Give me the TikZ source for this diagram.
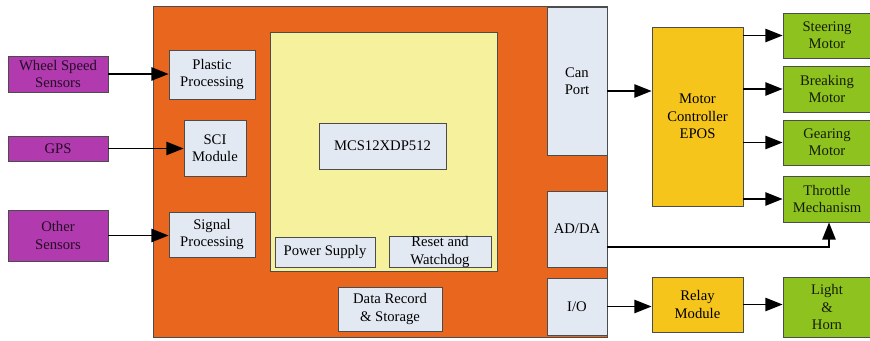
\documentclass[tikz,border=0pt]{standalone}
\usepackage{fontspec}
\setmainfont{Liberation Serif}
\usetikzlibrary{arrows.meta}

\definecolor{ecuorange}{HTML}{E8661E}
\definecolor{mcuyellow}{HTML}{F6F19C}
\definecolor{unitgrey}{HTML}{E3E9F3}
\definecolor{sensorpurple}{HTML}{B03AAE}
\definecolor{drivegold}{HTML}{F6C51B}
\definecolor{actgreen}{HTML}{8DC21F}

\tikzset{
  blk/.style={draw=black!70, line width=0.6pt, rectangle, inner sep=0pt, align=center,
    font=\fontsize{11}{13}\selectfont},
  unit/.style={blk, fill=unitgrey},
  sensor/.style={blk, fill=sensorpurple, text=black!80!sensorpurple},
  drive/.style={blk, fill=drivegold},
  actuator/.style={blk, fill=actgreen, text=black!85!actgreen},
  arr/.style={-{Triangle[length=13pt,width=10pt]}, line width=1.4pt},
}

\begin{document}
\begin{tikzpicture}[x=0.75pt, y=-0.75pt]
\useasboundingbox (0,0) rectangle (870,340);

% controller board and MCU area
\node[blk, fill=ecuorange, minimum width=454*0.75pt, minimum height=331*0.75pt] (ecu) at (380,171.5) {};
\node[blk, fill=mcuyellow, minimum width=227*0.75pt, minimum height=239*0.75pt] (mcu) at (383.5,151.5) {};

% units on the board
\node[unit, minimum width=86*0.75pt, minimum height=49*0.75pt] (plastic) at (212,74.5) {Plastic\\Processing};
\node[unit, minimum width=62*0.75pt, minimum height=56*0.75pt] (sci) at (215,148) {SCI\\Module};
\node[unit, minimum width=86*0.75pt, minimum height=45*0.75pt] (signal) at (212,234.5) {Signal\\Processing};
\node[unit, minimum width=127*0.75pt, minimum height=46*0.75pt] (chip) at (382.5,146) {MCS12XDP512};
\node[unit, minimum width=100*0.75pt, minimum height=30*0.75pt] (power) at (325,252) {Power Supply};
\node[unit, minimum width=102*0.75pt, minimum height=30*0.75pt] (reset) at (440,252) {Reset and\\Watchdog};
\node[unit, minimum width=104*0.75pt, minimum height=44*0.75pt] (data) at (390,309) {Data Record\\\& Storage};
\node[unit, minimum width=60*0.75pt, minimum height=148*0.75pt] (can) at (577,81) {Can\\Port};
\node[unit, minimum width=60*0.75pt, minimum height=76*0.75pt] (adda) at (577,229) {AD/DA};
\node[unit, minimum width=60*0.75pt, minimum height=57*0.75pt] (io) at (577,306.5) {I/O};

% sensors
\node[sensor, minimum width=100*0.75pt, minimum height=36*0.75pt] (wheel) at (58,74) {Wheel Speed\\Sensors};
\node[sensor, minimum width=100*0.75pt, minimum height=25*0.75pt] (gps) at (58,148.5) {GPS};
\node[sensor, minimum width=100*0.75pt, minimum height=51*0.75pt] (other) at (58,235.5) {Other\\Sensors};

% drivers
\node[drive, minimum width=91*0.75pt, minimum height=179*0.75pt] (epos) at (697.5,116.5) {Motor\\Controller\\EPOS};
\node[drive, minimum width=91*0.75pt, minimum height=55*0.75pt] (relay) at (697.5,304.5) {Relay\\Module};

% actuators
\node[actuator, minimum width=88*0.75pt, minimum height=45*0.75pt] (steer) at (827,35.5) {Steering\\Motor};
\node[actuator, minimum width=88*0.75pt, minimum height=46*0.75pt] (brake) at (827,89) {Breaking\\Motor};
\node[actuator, minimum width=88*0.75pt, minimum height=45*0.75pt] (gear) at (827,142.5) {Gearing\\Motor};
\node[actuator, minimum width=88*0.75pt, minimum height=46*0.75pt] (throttle) at (827,199) {Throttle\\Mechanism};
\node[actuator, minimum width=88*0.75pt, minimum height=60*0.75pt] (light) at (827,307) {Light\\\&\\Horn};

% signal flow
\draw[arr] (wheel.east) -- (plastic.west |- wheel.east);
\draw[arr] (gps.east) -- (sci.west |- gps.east);
\draw[arr] (other.east) -- (signal.west |- other.east);
\draw[arr] ([yshift=-7.5pt]can.east) -- ([yshift=-7.5pt]can.east -| epos.west);
\foreach \m in {steer, brake, gear, throttle}
  \draw[arr] (epos.east |- \m.west) -- (\m.west);
\draw[arr] ([yshift=-13.5pt]adda.east) -| ([xshift=1.5pt]throttle.south);
\draw[arr] (io.east) -- (io.east -| relay.west);
\draw[arr] (relay.east) -- (relay.east -| light.west);

\end{tikzpicture}
\end{document}
